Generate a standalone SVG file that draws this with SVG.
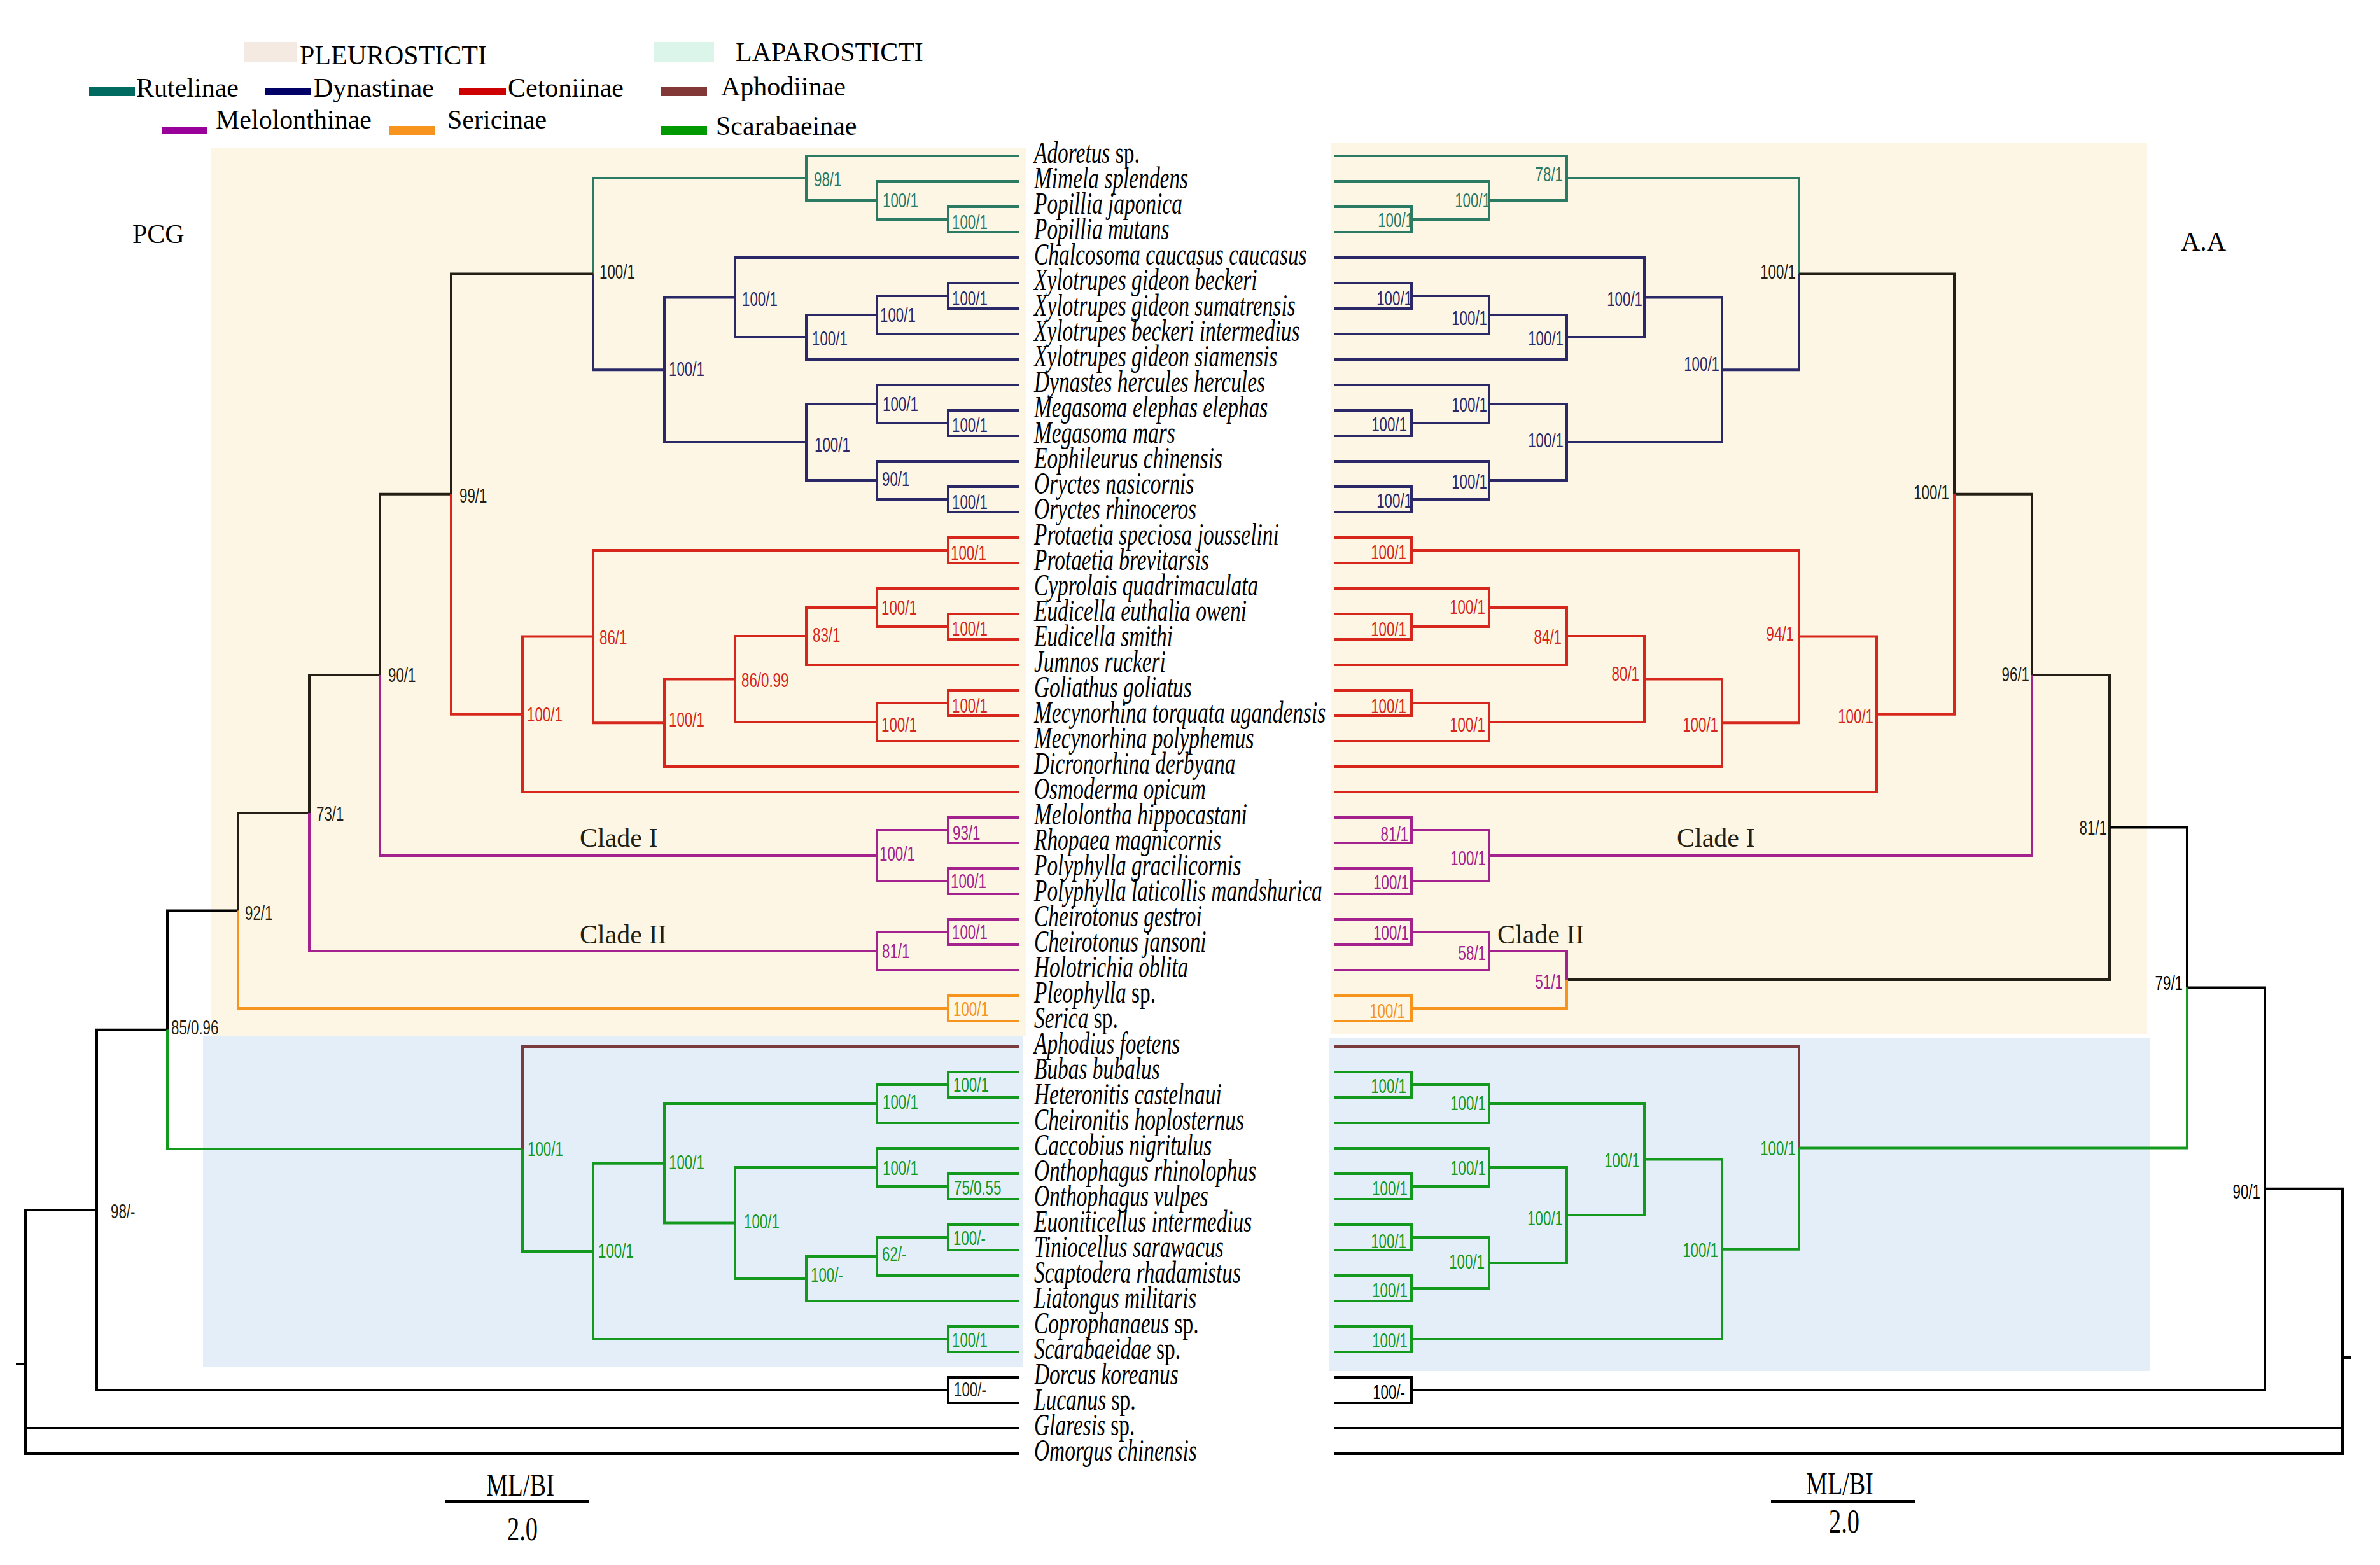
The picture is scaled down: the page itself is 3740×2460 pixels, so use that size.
<svg xmlns="http://www.w3.org/2000/svg" width="3740" height="2460" viewBox="0 0 3740 2460">
<style>
.t{stroke:#2B7A63;fill:#2B7A63}
.d{stroke:#2B2868;fill:#2B2868}
.c{stroke:#D7261B;fill:#D7261B}
.m{stroke:#A3228D;fill:#A3228D}
.s{stroke:#F7941D;fill:#F7941D}
.g{stroke:#14991F;fill:#14991F}
.a{stroke:#7A3B3E;fill:#7A3B3E}
.k{stroke:#231F14;fill:#231F14}
.b{stroke:#000;fill:#000}
.e{fill:none;stroke-width:4;stroke-linejoin:miter;stroke-linecap:butt}
.n{stroke:none;font-family:"Liberation Sans",Arial,sans-serif;font-size:31px}
.r{text-anchor:end}
.tx{font-family:"Liberation Serif","Times New Roman",serif;font-size:48px;font-style:italic;fill:#000}
.up{font-style:normal}
.lg{font-family:"Liberation Serif","Times New Roman",serif;font-size:42px;fill:#000}
.cl{font-family:"Liberation Serif","Times New Roman",serif;font-size:42px;fill:#231F14}
</style>
<rect width="3740" height="2460" fill="#fff"/>
<g id="backgrounds">
<rect x="331" y="232" width="1281" height="1396" fill="#FDF6E4"/>
<rect x="319" y="1629" width="1288" height="519" fill="#E3EEF9"/>
<rect x="2091" y="225" width="1283" height="1400" fill="#FDF6E4"/>
<rect x="2088" y="1631" width="1290" height="524" fill="#E3EEF9"/>
</g>
<g id="legend">
<rect x="383" y="66" width="83" height="32" fill="#F4EAE2"/>
<text class="lg" x="471" y="101">PLEUROSTICTI</text>
<rect x="1027" y="66" width="95" height="32" fill="#DBF5EB"/>
<text class="lg" x="1156" y="96">LAPAROSTICTI</text>
<rect x="140" y="137" width="72" height="14" fill="#006A60"/>
<text class="lg" x="214" y="152">Rutelinae</text>
<rect x="416" y="138" width="72" height="12" fill="#000066"/>
<text class="lg" x="493" y="152">Dynastinae</text>
<rect x="722" y="138" width="73" height="12" fill="#CC0000"/>
<text class="lg" x="798" y="152">Cetoniinae</text>
<rect x="1039" y="137" width="72" height="14" fill="#833838"/>
<text class="lg" x="1133" y="150">Aphodiinae</text>
<rect x="254" y="199" width="72" height="11" fill="#990099"/>
<text class="lg" x="339" y="202">Melolonthinae</text>
<rect x="611" y="198" width="72" height="14" fill="#F7941D"/>
<text class="lg" x="703" y="202">Sericinae</text>
<rect x="1039" y="198" width="72" height="14" fill="#009900"/>
<text class="lg" x="1125" y="212">Scarabaeinae</text>
</g>
<g id="connectors">
<path class="e t" d="M1602,245 H1267 V280 M1602,285 H1378 V315 M1602,325 H1490 V365 H1602 M1490,345 H1378 V315 M1378,315 H1267 V280 M1267,280 H932 V430.6"/>
<path class="e d" d="M1602,405 H1155 V467.5 M1602,445 H1490 V485 H1602 M1490,465 H1378 V495 M1602,525 H1378 V495 M1378,495 H1267 V530 M1602,565 H1267 V530 M1267,530 H1155 V467.5 M1155,467.5 H1044 V581.3 M1602,605 H1378 V635 M1602,645 H1490 V685 H1602 M1490,665 H1378 V635 M1378,635 H1267 V695 M1602,725 H1378 V755 M1602,765 H1490 V805 H1602 M1490,785 H1378 V755 M1378,755 H1267 V695 M1267,695 H1044 V581.3 M1044,581.3 H932 V430.6"/>
<path class="e k" d="M932,430.6 H709 V776.7 M709,776.7 H597 V1060.9 M597,1060.9 H486 V1277.9 M486,1277.9 H374 V1431.5"/>
<path class="e b" d="M374,1431.5 H263 V1618.8 M263,1618.8 H152 V1901.9 M1602,2165 H1490 V2205 H1602 M1490,2185 H152 V1901.9 M152,1901.9 H40 V2144 M1602,2245 H40 V2144 M1602,2285 H40 V2144 M25,2144 H40"/>
<path class="e c" d="M1602,845 H1490 V885 H1602 M1490,865 H932 V1000.6 M1602,925 H1378 V955 M1602,965 H1490 V1005 H1602 M1490,985 H1378 V955 M1378,955 H1267 V1000 M1602,1045 H1267 V1000 M1267,1000 H1155 V1067.5 M1602,1085 H1490 V1125 H1602 M1490,1105 H1378 V1135 M1602,1165 H1378 V1135 M1378,1135 H1155 V1067.5 M1155,1067.5 H1044 V1136.3 M1602,1205 H1044 V1136.3 M1044,1136.3 H932 V1000.6 M932,1000.6 H821 V1122.8 M1602,1245 H821 V1122.8 M821,1122.8 H709 V776.7"/>
<path class="e m" d="M1602,1285 H1490 V1325 H1602 M1602,1365 H1490 V1405 H1602 M1490,1305 H1378 V1385 H1490 M1378,1345 H597 V1060.9 M1602,1445 H1490 V1485 H1602 M1490,1465 H1378 V1495 M1602,1525 H1378 V1495 M1378,1495 H486 V1277.9"/>
<path class="e s" d="M1602,1565 H1490 V1605 H1602 M1490,1585 H374 V1431.5"/>
<path class="e a" d="M1602,1645 H821 V1806"/>
<path class="e g" d="M1602,1685 H1490 V1725 H1602 M1490,1705 H1378 V1735 M1602,1765 H1378 V1735 M1378,1735 H1044 V1828.8 M1602,1805 H1378 V1835 M1602,1845 H1490 V1885 H1602 M1490,1865 H1378 V1835 M1378,1835 H1155 V1922.5 M1602,1925 H1490 V1965 H1602 M1490,1945 H1378 V1975 M1602,2005 H1378 V1975 M1378,1975 H1267 V2010 M1602,2045 H1267 V2010 M1267,2010 H1155 V1922.5 M1155,1922.5 H1044 V1828.8 M1044,1828.8 H932 V1966.9 M1602,2085 H1490 V2125 H1602 M1490,2105 H932 V1966.9 M932,1966.9 H821 V1806 M821,1806 H263 V1618.8"/>
<path class="e t" d="M2096,245 H2462 V280 M2096,285 H2340 V315 M2096,325 H2218 V365 H2096 M2218,345 H2340 V315 M2340,315 H2462 V280 M2462,280 H2827 V430.6"/>
<path class="e d" d="M2096,405 H2584 V467.5 M2096,445 H2218 V485 H2096 M2218,465 H2340 V495 M2096,525 H2340 V495 M2340,495 H2462 V530 M2096,565 H2462 V530 M2462,530 H2584 V467.5 M2584,467.5 H2706 V581.3 M2096,605 H2340 V635 M2096,645 H2218 V685 H2096 M2218,665 H2340 V635 M2340,635 H2462 V695 M2096,725 H2340 V755 M2096,765 H2218 V805 H2096 M2218,785 H2340 V755 M2340,755 H2462 V695 M2462,695 H2706 V581.3 M2706,581.3 H2827 V430.6"/>
<path class="e k" d="M2827,430.6 H3071 V776.7 M3071,776.7 H3193 V1060.9 M3193,1060.9 H3315 V1300.5 M2462,1540 H3315 V1300.5"/>
<path class="e b" d="M3315,1300.5 H3437 V1552.5 M3437,1552.5 H3559 V1868.8 M2096,2165 H2218 V2205 H2096 M2218,2185 H3559 V1868.8 M3559,1868.8 H3681 V2134 M2096,2245 H3681 V2134 M2096,2285 H3681 V2134 M3681,2134 H3695"/>
<path class="e c" d="M2096,845 H2218 V885 H2096 M2218,865 H2827 V1000.6 M2096,925 H2340 V955 M2096,965 H2218 V1005 H2096 M2218,985 H2340 V955 M2340,955 H2462 V1000 M2096,1045 H2462 V1000 M2462,1000 H2584 V1067.5 M2096,1085 H2218 V1125 H2096 M2218,1105 H2340 V1135 M2096,1165 H2340 V1135 M2340,1135 H2584 V1067.5 M2584,1067.5 H2706 V1136.3 M2096,1205 H2706 V1136.3 M2706,1136.3 H2827 V1000.6 M2827,1000.6 H2949 V1122.8 M2096,1245 H2949 V1122.8 M2949,1122.8 H3071 V776.7"/>
<path class="e m" d="M2096,1285 H2218 V1325 H2096 M2096,1365 H2218 V1405 H2096 M2218,1305 H2340 V1385 H2218 M2340,1345 H3193 V1060.9 M2096,1445 H2218 V1485 H2096 M2218,1465 H2340 V1495 M2096,1525 H2340 V1495 M2340,1495 H2462 V1540"/>
<path class="e s" d="M2096,1565 H2218 V1605 H2096 M2218,1585 H2462 V1540"/>
<path class="e a" d="M2096,1645 H2827 V1804.4"/>
<path class="e g" d="M2096,1685 H2218 V1725 H2096 M2218,1705 H2340 V1735 M2096,1765 H2340 V1735 M2340,1735 H2584 V1822.5 M2096,1805 H2340 V1835 M2096,1845 H2218 V1885 H2096 M2218,1865 H2340 V1835 M2340,1835 H2462 V1910 M2096,1925 H2218 V1965 H2096 M2096,2005 H2218 V2045 H2096 M2218,1945 H2340 V2025 H2218 M2340,1985 H2462 V1910 M2462,1910 H2584 V1822.5 M2584,1822.5 H2706 V1963.8 M2096,2085 H2218 V2125 H2096 M2218,2105 H2706 V1963.8 M2706,1963.8 H2827 V1804.4 M2827,1804.4 H3437 V1552.5"/>
<path class="e b" d="M700,2360 H926 M2783,2360 H3009"/>
</g>
<g id="support-left">
<text class="n t" transform="translate(1279,293) scale(.72,1)">98/1</text>
<text class="n t" transform="translate(1387,326) scale(.72,1)">100/1</text>
<text class="n t" transform="translate(1496,360) scale(.72,1)">100/1</text>
<text class="n d" transform="translate(1166,481) scale(.72,1)">100/1</text>
<text class="n d" transform="translate(1496,480) scale(.72,1)">100/1</text>
<text class="n d" transform="translate(1383,506) scale(.72,1)">100/1</text>
<text class="n d" transform="translate(1276,543) scale(.72,1)">100/1</text>
<text class="n d" transform="translate(1051,591) scale(.72,1)">100/1</text>
<text class="n d" transform="translate(1387,646) scale(.72,1)">100/1</text>
<text class="n d" transform="translate(1496,679) scale(.72,1)">100/1</text>
<text class="n d" transform="translate(1280,710) scale(.72,1)">100/1</text>
<text class="n d" transform="translate(1386,764) scale(.72,1)">90/1</text>
<text class="n d" transform="translate(1496,800) scale(.72,1)">100/1</text>
<text class="n k" transform="translate(942,438) scale(.72,1)">100/1</text>
<text class="n k" transform="translate(722,790) scale(.72,1)">99/1</text>
<text class="n k" transform="translate(610,1072) scale(.72,1)">90/1</text>
<text class="n k" transform="translate(497,1290) scale(.72,1)">73/1</text>
<text class="n k" transform="translate(385,1446) scale(.72,1)">92/1</text>
<text class="n k" transform="translate(269,1626) scale(.72,1)">85/0.96</text>
<text class="n k" transform="translate(174,1915) scale(.72,1)">98/-</text>
<text class="n k" transform="translate(1499,2195) scale(.72,1)">100/-</text>
<text class="n c" transform="translate(1494,880) scale(.72,1)">100/1</text>
<text class="n c" transform="translate(942,1013) scale(.72,1)">86/1</text>
<text class="n c" transform="translate(1385,966) scale(.72,1)">100/1</text>
<text class="n c" transform="translate(1496,999) scale(.72,1)">100/1</text>
<text class="n c" transform="translate(1277,1009) scale(.72,1)">83/1</text>
<text class="n c" transform="translate(1165,1080) scale(.72,1)">86/0.99</text>
<text class="n c" transform="translate(1051,1142) scale(.72,1)">100/1</text>
<text class="n c" transform="translate(828,1134) scale(.72,1)">100/1</text>
<text class="n c" transform="translate(1496,1120) scale(.72,1)">100/1</text>
<text class="n c" transform="translate(1385,1150) scale(.72,1)">100/1</text>
<text class="n m" transform="translate(1497,1320) scale(.72,1)">93/1</text>
<text class="n m" transform="translate(1382,1353) scale(.72,1)">100/1</text>
<text class="n m" transform="translate(1494,1396) scale(.72,1)">100/1</text>
<text class="n m" transform="translate(1496,1476) scale(.72,1)">100/1</text>
<text class="n m" transform="translate(1386,1506) scale(.72,1)">81/1</text>
<text class="n s" transform="translate(1498,1597) scale(.72,1)">100/1</text>
<text class="n g" transform="translate(829,1817) scale(.72,1)">100/1</text>
<text class="n g" transform="translate(1498,1716) scale(.72,1)">100/1</text>
<text class="n g" transform="translate(1387,1743) scale(.72,1)">100/1</text>
<text class="n g" transform="translate(1051,1838) scale(.72,1)">100/1</text>
<text class="n g" transform="translate(1387,1847) scale(.72,1)">100/1</text>
<text class="n g" transform="translate(1499,1878) scale(.72,1)">75/0.55</text>
<text class="n g" transform="translate(1169,1931) scale(.72,1)">100/1</text>
<text class="n g" transform="translate(940,1977) scale(.72,1)">100/1</text>
<text class="n g" transform="translate(1498,1957) scale(.72,1)">100/-</text>
<text class="n g" transform="translate(1386,1982) scale(.72,1)">62/-</text>
<text class="n g" transform="translate(1274,2015) scale(.72,1)">100/-</text>
<text class="n g" transform="translate(1496,2117) scale(.72,1)">100/1</text>
</g>
<g id="support-right">
<text class="n r t" transform="translate(2221,357) scale(.72,1)">100/1</text>
<text class="n r t" transform="translate(2342,326) scale(.72,1)">100/1</text>
<text class="n r t" transform="translate(2456,285) scale(.72,1)">78/1</text>
<text class="n r d" transform="translate(2219,480) scale(.72,1)">100/1</text>
<text class="n r d" transform="translate(2337,511) scale(.72,1)">100/1</text>
<text class="n r d" transform="translate(2457,543) scale(.72,1)">100/1</text>
<text class="n r d" transform="translate(2581,481) scale(.72,1)">100/1</text>
<text class="n r d" transform="translate(2211,678) scale(.72,1)">100/1</text>
<text class="n r d" transform="translate(2337,647) scale(.72,1)">100/1</text>
<text class="n r d" transform="translate(2219,798) scale(.72,1)">100/1</text>
<text class="n r d" transform="translate(2337,768) scale(.72,1)">100/1</text>
<text class="n r d" transform="translate(2457,703) scale(.72,1)">100/1</text>
<text class="n r d" transform="translate(2702,583) scale(.72,1)">100/1</text>
<text class="n r k" transform="translate(2822,438) scale(.72,1)">100/1</text>
<text class="n r k" transform="translate(3063,785) scale(.72,1)">100/1</text>
<text class="n r k" transform="translate(3189,1071) scale(.72,1)">96/1</text>
<text class="n r k" transform="translate(3311,1312) scale(.72,1)">81/1</text>
<text class="n r b" transform="translate(3430,1556) scale(.72,1)">79/1</text>
<text class="n r b" transform="translate(3552,1884) scale(.72,1)">90/1</text>
<text class="n r b" transform="translate(2208,2199) scale(.72,1)">100/-</text>
<text class="n r c" transform="translate(2210,879) scale(.72,1)">100/1</text>
<text class="n r c" transform="translate(2334,965) scale(.72,1)">100/1</text>
<text class="n r c" transform="translate(2210,1000) scale(.72,1)">100/1</text>
<text class="n r c" transform="translate(2454,1012) scale(.72,1)">84/1</text>
<text class="n r c" transform="translate(2210,1121) scale(.72,1)">100/1</text>
<text class="n r c" transform="translate(2334,1150) scale(.72,1)">100/1</text>
<text class="n r c" transform="translate(2576,1070) scale(.72,1)">80/1</text>
<text class="n r c" transform="translate(2700,1150) scale(.72,1)">100/1</text>
<text class="n r c" transform="translate(2819,1007) scale(.72,1)">94/1</text>
<text class="n r c" transform="translate(2944,1137) scale(.72,1)">100/1</text>
<text class="n r m" transform="translate(2213,1322) scale(.72,1)">81/1</text>
<text class="n r m" transform="translate(2214,1398) scale(.72,1)">100/1</text>
<text class="n r m" transform="translate(2335,1360) scale(.72,1)">100/1</text>
<text class="n r m" transform="translate(2214,1477) scale(.72,1)">100/1</text>
<text class="n r m" transform="translate(2335,1509) scale(.72,1)">58/1</text>
<text class="n r m" transform="translate(2456,1554) scale(.72,1)">51/1</text>
<text class="n r s" transform="translate(2208,1600) scale(.72,1)">100/1</text>
<text class="n r g" transform="translate(2210,1718) scale(.72,1)">100/1</text>
<text class="n r g" transform="translate(2335,1745) scale(.72,1)">100/1</text>
<text class="n r g" transform="translate(2212,1879) scale(.72,1)">100/1</text>
<text class="n r g" transform="translate(2335,1847) scale(.72,1)">100/1</text>
<text class="n r g" transform="translate(2210,1962) scale(.72,1)">100/1</text>
<text class="n r g" transform="translate(2212,2039) scale(.72,1)">100/1</text>
<text class="n r g" transform="translate(2333,1994) scale(.72,1)">100/1</text>
<text class="n r g" transform="translate(2456,1926) scale(.72,1)">100/1</text>
<text class="n r g" transform="translate(2577,1835) scale(.72,1)">100/1</text>
<text class="n r g" transform="translate(2212,2118) scale(.72,1)">100/1</text>
<text class="n r g" transform="translate(2700,1976) scale(.72,1)">100/1</text>
<text class="n r g" transform="translate(2822,1816) scale(.72,1)">100/1</text>
</g>
<g id="clade-labels">
<text class="cl" x="911" y="1331">Clade I</text>
<text class="cl" x="911" y="1483">Clade II</text>
<text class="cl" x="2635" y="1331">Clade I</text>
<text class="cl" x="2353" y="1483">Clade II</text>
<text class="lg" x="208" y="382">PCG</text>
<text class="lg" x="3427" y="394">A.A</text>
</g>
<g id="scale-bars" font-family="Liberation Serif, Times New Roman, serif" fill="#000">
<text x="764" y="2351" font-size="50" textLength="107" lengthAdjust="spacingAndGlyphs">ML/BI</text>
<text x="797" y="2421" font-size="52" textLength="48" lengthAdjust="spacingAndGlyphs">2.0</text>
<text x="2838" y="2349" font-size="50" textLength="106" lengthAdjust="spacingAndGlyphs">ML/BI</text>
<text x="2874" y="2409" font-size="52" textLength="48" lengthAdjust="spacingAndGlyphs">2.0</text>
</g>
<g id="taxa" transform="translate(1625,0) scale(0.696,1)">
<text class="tx" x="0" y="256">Adoretus<tspan class="up"> sp.</tspan></text>
<text class="tx" x="0" y="296">Mimela splendens</text>
<text class="tx" x="0" y="336">Popillia japonica</text>
<text class="tx" x="0" y="376">Popillia mutans</text>
<text class="tx" x="0" y="416">Chalcosoma caucasus caucasus</text>
<text class="tx" x="0" y="456">Xylotrupes gideon beckeri</text>
<text class="tx" x="0" y="496">Xylotrupes gideon sumatrensis</text>
<text class="tx" x="0" y="536">Xylotrupes beckeri intermedius</text>
<text class="tx" x="0" y="576">Xylotrupes gideon siamensis</text>
<text class="tx" x="0" y="616">Dynastes hercules hercules</text>
<text class="tx" x="0" y="656">Megasoma elephas elephas</text>
<text class="tx" x="0" y="696">Megasoma mars</text>
<text class="tx" x="0" y="736">Eophileurus chinensis</text>
<text class="tx" x="0" y="776">Oryctes nasicornis</text>
<text class="tx" x="0" y="816">Oryctes rhinoceros</text>
<text class="tx" x="0" y="856">Protaetia speciosa jousselini</text>
<text class="tx" x="0" y="896">Protaetia brevitarsis</text>
<text class="tx" x="0" y="936">Cyprolais quadrimaculata</text>
<text class="tx" x="0" y="976">Eudicella euthalia oweni</text>
<text class="tx" x="0" y="1016">Eudicella smithi</text>
<text class="tx" x="0" y="1056">Jumnos ruckeri</text>
<text class="tx" x="0" y="1096">Goliathus goliatus</text>
<text class="tx" x="0" y="1136">Mecynorhina torquata ugandensis</text>
<text class="tx" x="0" y="1176">Mecynorhina polyphemus</text>
<text class="tx" x="0" y="1216">Dicronorhina derbyana</text>
<text class="tx" x="0" y="1256">Osmoderma opicum</text>
<text class="tx" x="0" y="1296">Melolontha hippocastani</text>
<text class="tx" x="0" y="1336">Rhopaea magnicornis</text>
<text class="tx" x="0" y="1376">Polyphylla gracilicornis</text>
<text class="tx" x="0" y="1416">Polyphylla laticollis mandshurica</text>
<text class="tx" x="0" y="1456">Cheirotonus gestroi</text>
<text class="tx" x="0" y="1496">Cheirotonus jansoni</text>
<text class="tx" x="0" y="1536">Holotrichia oblita</text>
<text class="tx" x="0" y="1576">Pleophylla<tspan class="up"> sp.</tspan></text>
<text class="tx" x="0" y="1616">Serica<tspan class="up"> sp.</tspan></text>
<text class="tx" x="0" y="1656">Aphodius foetens</text>
<text class="tx" x="0" y="1696">Bubas bubalus</text>
<text class="tx" x="0" y="1736">Heteronitis castelnaui</text>
<text class="tx" x="0" y="1776">Cheironitis hoplosternus</text>
<text class="tx" x="0" y="1816">Caccobius nigritulus</text>
<text class="tx" x="0" y="1856">Onthophagus rhinolophus</text>
<text class="tx" x="0" y="1896">Onthophagus vulpes</text>
<text class="tx" x="0" y="1936">Euoniticellus intermedius</text>
<text class="tx" x="0" y="1976">Tiniocellus sarawacus</text>
<text class="tx" x="0" y="2016">Scaptodera rhadamistus</text>
<text class="tx" x="0" y="2056">Liatongus militaris</text>
<text class="tx" x="0" y="2096">Coprophanaeus<tspan class="up"> sp.</tspan></text>
<text class="tx" x="0" y="2136">Scarabaeidae<tspan class="up"> sp.</tspan></text>
<text class="tx" x="0" y="2176">Dorcus koreanus</text>
<text class="tx" x="0" y="2216">Lucanus<tspan class="up"> sp.</tspan></text>
<text class="tx" x="0" y="2256">Glaresis<tspan class="up"> sp.</tspan></text>
<text class="tx" x="0" y="2296">Omorgus chinensis</text>
</g>
</svg>
